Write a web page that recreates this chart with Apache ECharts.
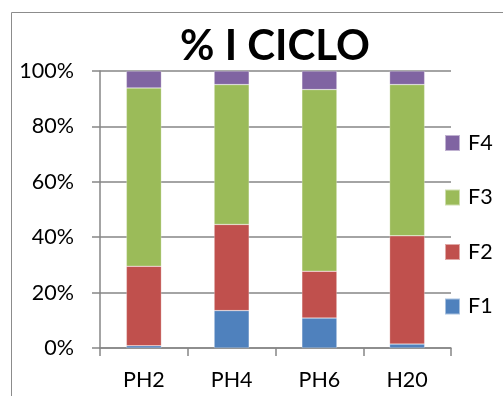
<!DOCTYPE html>
<html><head><meta charset="utf-8">
<script src="https://cdn.jsdelivr.net/npm/echarts@6/dist/echarts.min.js"></script>
<style>html,body{margin:0;padding:0;background:#fff}#c{width:503px;height:396px}</style>
</head><body><div id="c"></div>
<script>
const categories = ['PH2', 'PH4', 'PH6', 'H20'];
const F1 = [0.8, 13.5, 10.8, 1.4];
const F2 = [28.7, 31.1, 16.9, 39.1];
const F3 = [64.4, 50.5, 65.6, 54.6];
const F4 = [6.1, 4.9, 6.7, 4.9];
const seriesNames = ['F1', 'F2', 'F3', 'F4'];
const colors = ['#4F81BD', '#C0504D', '#9BBB59', '#8064A2'];
const title = '% I CICLO';

const font = 'Lato, "Open Sans", sans-serif';
const chart = echarts.init(document.getElementById('c'), null, {renderer: 'canvas'});
const data = [F1, F2, F3, F4];
chart.setOption({
  animation: false,
  title: {text: title, left: 270, textAlign: 'center', top: 20,
    textStyle: {fontFamily: font, fontWeight: 'bold', fontSize: 42, color: '#000'}},
  graphic: [{type: 'rect', shape: {x: 11.5, y: 12.5, width: 520, height: 420},
    style: {fill: 'none', stroke: '#8c8c8c', lineWidth: 1}, silent: true}],
  legend: {orient: 'vertical', left: 439, top: 127, itemWidth: 15, itemHeight: 16, itemGap: 32.5,
    icon: 'rect', data: ['F4', 'F3', 'F2', 'F1'],
    textStyle: {fontFamily: font, fontSize: 21.5, color: '#000', padding: [0, 0, 0, 3]}},
  grid: {left: 100, right: 52, top: 71, bottom: 48},
  xAxis: {type: 'category', data: categories,
    axisLine: {lineStyle: {color: '#868686', width: 1.5}},
    axisTick: {show: true, length: 8, lineStyle: {color: '#868686', width: 1.5}},
    axisLabel: {fontFamily: font, fontSize: 21.5, color: '#000', margin: 21}},
  yAxis: {type: 'value', min: 0, max: 100, interval: 20,
    axisLine: {show: true, lineStyle: {color: '#868686', width: 1.5}},
    axisTick: {show: true, length: 8, lineStyle: {color: '#868686', width: 1.5}},
    splitLine: {lineStyle: {color: '#868686', width: 1.5}},
    axisLabel: {fontFamily: font, fontSize: 21.5, color: '#000', margin: 26, formatter: '{value}%'}},
  series: data.map((d, i) => ({
    name: seriesNames[i], type: 'bar', stack: 'total', data: d, barWidth: 35,
    itemStyle: {color: colors[i], borderColor: 'rgba(255,255,255,0.5)', borderWidth: 0.5}
  }))
});
</script></body></html>
